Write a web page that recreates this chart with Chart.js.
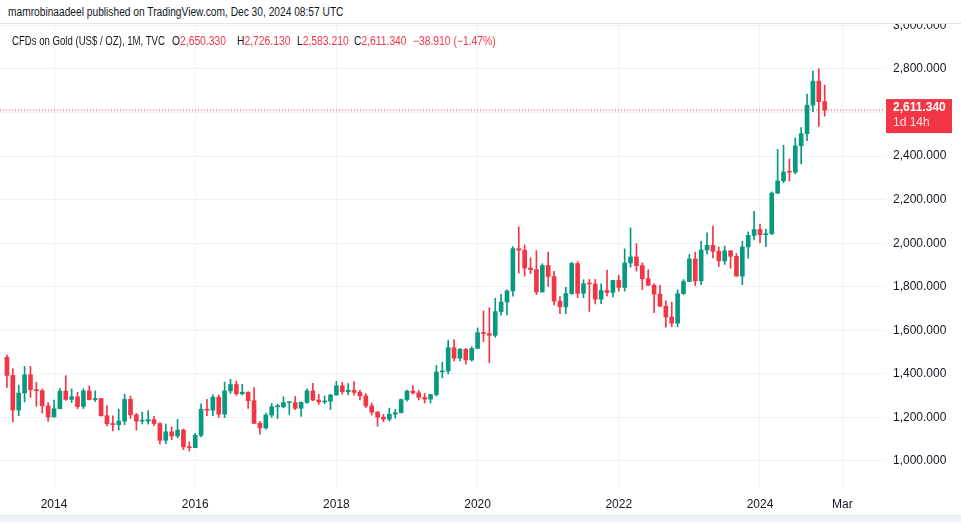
<!DOCTYPE html>
<html>
<head>
<meta charset="utf-8">
<script src="https://cdn.jsdelivr.net/npm/chart.js@4.4.0/dist/chart.umd.min.js"></script>
<style>
  html, body { margin: 0; padding: 0; background: #fff; }
  #wrap { position: relative; width: 961px; height: 522px; overflow: hidden; font-family: "Liberation Sans", Arial, sans-serif; color: #131722; }
  #chartBox { position: absolute; left: 0; top: 0; width: 961px; height: 522px; }
  #header { position: absolute; left: 0; top: 0; width: 961px; height: 23px; background: #fff; border-bottom: 1px solid #e0e3eb; }
  .txt { position: absolute; font-size: 12px; white-space: nowrap; transform: scaleX(0.86); transform-origin: 0 50%; }
  #header .txt { left: 8px; top: 5px; transform: scaleX(0.85); }
  #legend .txt { top: 34px; }
  #legend .name { transform: scaleX(0.80); }
  .v { color: #f23645; }
  #bottomBand { position: absolute; left: 0; top: 515px; width: 961px; height: 7px; background: #f0f3fa; border-top: 1px solid #e0e3eb; }
</style>
</head>
<body>
<div id="wrap">
  <div id="chartBox"><canvas id="goldChart"></canvas></div>
  <div id="header"><span class="txt">mamrobinaadeel published on TradingView.com, Dec 30, 2024 08:57 UTC</span></div>
  <div id="legend">
    <span class="txt name" style="left:12px">CFDs on Gold (US$ / OZ), 1M, TVC</span>
    <span class="txt" style="left:172px">O<span class="v">2,650.330</span></span>
    <span class="txt" style="left:237px">H<span class="v">2,726.130</span></span>
    <span class="txt" style="left:297px">L<span class="v">2,583.210</span></span>
    <span class="txt" style="left:354px">C<span class="v">2,611.340</span></span>
    <span class="txt v" style="left:413px">&minus;38.910 (&minus;1.47%)</span>
  </div>
  <div id="bottomBand"></div>
</div>
<script>
// monthly candles, first one is May 2013
const startYear = 2013, startMonth = 5;

const opens = [
  1476, 1393, 1234, 1312, 1396, 1327, 1323, 1253,                   // 2013
  1202, 1240, 1321, 1283, 1295, 1250, 1322, 1282, 1287, 1208, 1172, 1167, // 2014
  1183, 1283, 1212, 1183, 1183, 1190, 1172, 1095, 1134, 1115, 1142, 1065, // 2015
  1061, 1118, 1238, 1233, 1293, 1215, 1322, 1351, 1309, 1316, 1277, 1173, // 2016
  1152, 1211, 1249, 1249, 1268, 1268, 1242, 1269, 1322, 1280, 1271, 1275, // 2017
  1303, 1345, 1318, 1325, 1315, 1299, 1253, 1224, 1201, 1192, 1215, 1222, // 2018
  1282, 1321, 1313, 1292, 1284, 1305, 1409, 1413, 1520, 1472, 1513, 1464, // 2019
  1517, 1589, 1585, 1577, 1686, 1730, 1781, 1975, 1968, 1886, 1879, 1776, // 2020
  1898, 1847, 1734, 1708, 1769, 1907, 1770, 1814, 1813, 1743, 1783, 1774, // 2021
  1829, 1797, 1909, 1937, 1897, 1837, 1807, 1766, 1711, 1661, 1633, 1768, // 2022
  1824, 1928, 1827, 1969, 1990, 1963, 1919, 1965, 1940, 1849, 1983, 2036, // 2023
  2063, 2039, 2044, 2230, 2286, 2327, 2326, 2447, 2503, 2634, 2744, 2650.33 // 2024
];
const highs = [
  1487, 1424, 1348, 1434, 1434, 1361, 1330, 1268,
  1280, 1332, 1392, 1331, 1315, 1332, 1345, 1322, 1287, 1255, 1207, 1238,
  1307, 1298, 1219, 1224, 1232, 1205, 1175, 1170, 1157, 1191, 1147, 1088,
  1127, 1263, 1283, 1304, 1303, 1362, 1375, 1367, 1352, 1318, 1337, 1182,
  1220, 1264, 1261, 1295, 1270, 1296, 1272, 1331, 1357, 1306, 1299, 1307,
  1366, 1361, 1356, 1365, 1326, 1309, 1266, 1228, 1214, 1243, 1237, 1284,
  1326, 1346, 1324, 1310, 1306, 1439, 1453, 1555, 1557, 1517, 1516, 1525,
  1611, 1689, 1704, 1747, 1765, 1786, 1984, 2075, 1992, 1933, 1966, 1906,
  1959, 1871, 1755, 1797, 1913, 1916, 1832, 1834, 1834, 1814, 1877, 1830,
  1853, 1974, 2070, 1998, 1910, 1879, 1814, 1807, 1735, 1729, 1786, 1833,
  1949, 1959, 2009, 2048, 2079, 1983, 1987, 1966, 1953, 2009, 2052, 2146,
  2088, 2065, 2236, 2431, 2450, 2387, 2483, 2531, 2685, 2790, 2801, 2726.13
];
const lows = [
  1338, 1180, 1208, 1271, 1292, 1251, 1221, 1182,
  1202, 1240, 1278, 1268, 1240, 1241, 1280, 1273, 1206, 1161, 1138, 1142,
  1167, 1195, 1142, 1170, 1169, 1162, 1077, 1080, 1098, 1106, 1052, 1046,
  1061, 1111, 1208, 1208, 1200, 1199, 1310, 1301, 1303, 1241, 1171, 1123,
  1146, 1200, 1195, 1244, 1214, 1236, 1205, 1264, 1277, 1260, 1263, 1236,
  1302, 1307, 1303, 1302, 1281, 1245, 1211, 1160, 1180, 1183, 1196, 1221,
  1275, 1307, 1280, 1266, 1266, 1298, 1382, 1400, 1459, 1459, 1445, 1459,
  1517, 1548, 1451, 1568, 1670, 1671, 1757, 1863, 1849, 1860, 1764, 1775,
  1802, 1717, 1676, 1677, 1765, 1750, 1750, 1687, 1721, 1722, 1758, 1753,
  1780, 1780, 1890, 1872, 1787, 1805, 1681, 1709, 1615, 1617, 1616, 1765,
  1823, 1805, 1810, 1950, 1932, 1893, 1903, 1885, 1848, 1810, 1931, 2015,
  2002, 1984, 2039, 2228, 2277, 2286, 2319, 2364, 2471, 2604, 2536, 2583.21
];
const closes = [
  1393, 1234, 1312, 1396, 1327, 1323, 1253, 1202,
  1240, 1321, 1283, 1295, 1250, 1322, 1282, 1287, 1208, 1171, 1167, 1183,
  1283, 1212, 1183, 1183, 1190, 1172, 1095, 1134, 1115, 1142, 1065, 1061,
  1118, 1238, 1233, 1293, 1215, 1322, 1351, 1309, 1316, 1277, 1173, 1152,
  1211, 1249, 1249, 1268, 1268, 1242, 1269, 1322, 1280, 1271, 1275, 1303,
  1345, 1318, 1325, 1315, 1299, 1253, 1224, 1201, 1192, 1215, 1222, 1282,
  1321, 1313, 1292, 1284, 1305, 1409, 1413, 1520, 1472, 1513, 1464, 1517,
  1589, 1585, 1577, 1686, 1730, 1781, 1975, 1968, 1886, 1879, 1776, 1898,
  1847, 1734, 1708, 1769, 1907, 1770, 1814, 1813, 1743, 1783, 1774, 1829,
  1797, 1909, 1937, 1897, 1837, 1807, 1766, 1711, 1661, 1633, 1768, 1824,
  1928, 1827, 1969, 1990, 1963, 1919, 1965, 1940, 1849, 1983, 2036, 2063,
  2039, 2044, 2230, 2286, 2327, 2326, 2447, 2503, 2634, 2744, 2650, 2611.34
];

// x axis: months counted from Jan 2014
const xTickMonths = [0, 24, 48, 72, 96, 120, 134];
const xTickLabels = ['2014', '2016', '2018', '2020', '2022', '2024', 'Mar'];
const yTicks = [1000, 1200, 1400, 1600, 1800, 2000, 2200, 2400, 2600, 2800, 3000];
const lastClose = 2611.34;
const countdown = '1d 14h';

const xMin = -9.18, xMax = 141.25;
const yMin = 876, yMax = 3006.6;

const upColor = '#089981', downColor = '#f23645';
const gridColor = '#f0f3fa';
const font = '"Liberation Sans", Arial, sans-serif';

const monthIdx = closes.map((c, i) => (startYear - 2014) * 12 + (startMonth - 1) + i);
const colors = closes.map((c, i) => c >= opens[i] ? upColor : downColor);

const fmt = v => v.toLocaleString('en-US', { minimumFractionDigits: 3, maximumFractionDigits: 3 });

const priceLabel = {
  id: 'priceLabel',
  afterDraw(chart) {
    const ctx = chart.ctx;
    const y = chart.scales.y.getPixelForValue(lastClose);
    const x = chart.chartArea.right + 1;
    ctx.save();
    ctx.fillStyle = downColor;
    ctx.fillRect(x, y - 11, 66, 34);
    ctx.fillStyle = '#fff';
    ctx.textBaseline = 'middle';
    ctx.font = 'bold 12px ' + font;
    ctx.fillText(fmt(lastClose), x + 7, y - 2);
    ctx.font = '12px ' + font;
    ctx.fillStyle = 'rgba(255,255,255,0.85)';
    ctx.fillText(countdown, x + 7, y + 13);
    ctx.restore();
  }
};

new Chart(document.getElementById('goldChart'), {
  type: 'bar',
  data: {
    datasets: [
      {
        type: 'line',
        data: [{ x: xMin, y: lastClose }, { x: xMax, y: lastClose }],
        borderColor: downColor,
        borderWidth: 1,
        borderDash: [1, 2],
        pointRadius: 0,
        order: 3
      },
      {
        label: 'wick',
        data: monthIdx.map((m, i) => ({ x: m, y: [lows[i], highs[i]] })),
        backgroundColor: colors,
        barThickness: 1,
        grouped: false,
        order: 2
      },
      {
        label: 'body',
        data: monthIdx.map((m, i) => ({ x: m, y: [opens[i], closes[i]] })),
        backgroundColor: colors,
        barThickness: 4,
        minBarLength: 1,
        grouped: false,
        order: 1
      }
    ]
  },
  options: {
    responsive: true,
    maintainAspectRatio: false,
    animation: false,
    layout: { padding: { top: 24, left: 0, right: 0, bottom: 0 } },
    plugins: { legend: { display: false }, tooltip: { enabled: false } },
    scales: {
      x: {
        type: 'linear',
        offset: false,
        min: xMin,
        max: xMax,
        afterBuildTicks: s => { s.ticks = xTickMonths.map(v => ({ value: v })); },
        afterFit: s => { s.height = 34; },
        grid: { color: gridColor, drawTicks: false, offset: false },
        border: { display: false },
        ticks: {
          padding: 9,
          color: '#131722',
          font: { family: font, size: 12 },
          maxRotation: 0,
          autoSkip: false,
          callback: (v, i) => xTickLabels[i]
        }
      },
      y: {
        position: 'right',
        min: yMin,
        max: yMax,
        afterBuildTicks: s => { s.ticks = yTicks.map(v => ({ value: v })); },
        afterFit: s => { s.width = 76; },
        grid: { color: gridColor, drawTicks: false },
        border: { display: false },
        ticks: {
          padding: 8,
          color: '#131722',
          font: { family: font, size: 12 },
          callback: v => fmt(v)
        }
      }
    }
  },
  plugins: [priceLabel]
});
</script>
</body>
</html>
